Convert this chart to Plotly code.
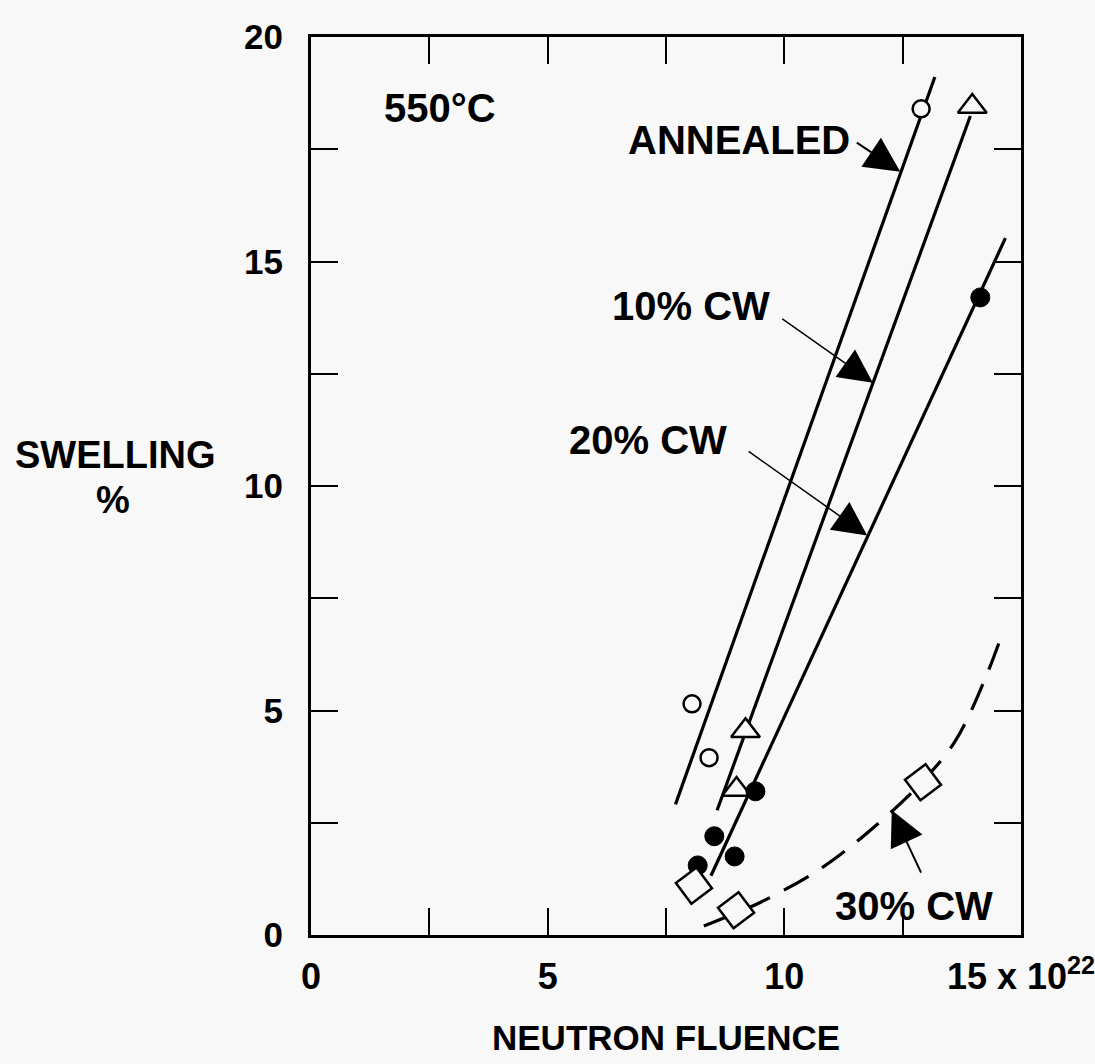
import plotly.graph_objects as go

# ---- data ----
# measured points (x = neutron fluence, 1e22 n/cm^2 ; y = swelling %)
annealed_x = [8.05, 8.41, 12.89]
annealed_y = [5.15, 3.95, 18.40]
cw10_x = [8.99, 9.18, 13.97]
cw10_y = [3.24, 4.55, 18.45]
cw20_x = [8.17, 8.52, 8.95, 9.39, 14.14]
cw20_y = [1.55, 2.20, 1.75, 3.20, 14.20]
cw30_x = [8.09, 8.98, 12.93]
cw30_y = [1.10, 0.55, 3.40]

# trend lines
annealed_fit_x = [7.70, 13.18]
annealed_fit_y = [2.91, 19.11]
cw10_fit_x = [8.58, 13.93]
cw10_fit_y = [2.78, 18.24]
cw20_fit_x = [8.45, 14.67]
cw20_fit_y = [1.32, 15.52]
cw30_fit_x = [8.30, 9.00, 9.50, 10.80, 12.00, 12.90, 13.60, 14.20, 14.60]
cw30_fit_y = [0.20, 0.50, 0.73, 1.50, 2.50, 3.40, 4.30, 5.60, 6.70]

x_tick_vals = [0, 2.5, 5, 7.5, 10, 12.5, 15]
x_tick_text = ["0", "", "5", "", "10", "", "15 x 10<sup>22</sup>"]
y_tick_vals = [0, 2.5, 5, 7.5, 10, 12.5, 15, 17.5, 20]
y_tick_text = ["0", "", "5", "", "10", "", "15", "", "20"]

BG = "#f8f8f8"
INK = "black"
FONT = "Liberation Sans, Arial, Helvetica, sans-serif"

fig = go.Figure()

# lines
for fx, fy in [(annealed_fit_x, annealed_fit_y), (cw10_fit_x, cw10_fit_y),
               (cw20_fit_x, cw20_fit_y)]:
    fig.add_trace(go.Scatter(x=fx, y=fy, mode="lines",
                             line=dict(color=INK, width=3.2), hoverinfo="skip"))
fig.add_trace(go.Scatter(x=cw30_fit_x, y=cw30_fit_y, mode="lines",
                         line=dict(color=INK, width=3.2, dash="28px,16px", shape="spline"),
                         hoverinfo="skip"))

# markers
fig.add_trace(go.Scatter(x=annealed_x, y=annealed_y, mode="markers", name="ANNEALED",
                         marker=dict(symbol="circle", size=17, color=BG,
                                     line=dict(color=INK, width=2.5))))
fig.add_trace(go.Scatter(x=cw10_x, y=cw10_y, mode="markers", name="10% CW",
                         marker=dict(symbol="triangle-up", size=25, color=BG,
                                     line=dict(color=INK, width=2.5))))
fig.add_trace(go.Scatter(x=cw20_x, y=cw20_y, mode="markers", name="20% CW",
                         marker=dict(symbol="circle", size=19, color=INK,
                                     line=dict(color=INK, width=1))))
fig.add_trace(go.Scatter(x=cw30_x, y=cw30_y, mode="markers", name="30% CW",
                         marker=dict(symbol="diamond", size=28, color=BG, angle=8,
                                     line=dict(color=INK, width=2.5))))

# text labels
labels = [
    ("550°C", 2.73, 18.42),
    ("ANNEALED", 9.04, 17.70),
    ("10% CW", 8.03, 14.01),
    ("20% CW", 7.12, 11.02),
    ("30% CW", 12.74, 0.65),
]
for t, x, y in labels:
    fig.add_annotation(x=x, y=y, xref="x", yref="y", text=t, showarrow=False,
                       font=dict(family=FONT, size=40, color=INK, weight="bold"))

# arrows: (tip x, tip y, tail dx px, tail dy px, width, size)
arrows = [
    (12.45, 17.00, -45, -30, 2.0, 3.5),
    (11.87, 12.30, -92, -65, 1.5, 4.5),
    (11.75, 8.90, -120, -85, 1.5, 4.5),
    (12.27, 2.78, 30, 64, 2.0, 3.5),
]
for x, y, ax, ay, w, s in arrows:
    fig.add_annotation(x=x, y=y, xref="x", yref="y", text="", showarrow=True,
                       ax=ax, ay=ay, axref="pixel", ayref="pixel",
                       arrowhead=2, arrowwidth=w, arrowsize=s, arrowcolor=INK)

# axis titles (horizontal)
fig.add_annotation(x=-0.276, y=0.5345, xref="paper", yref="paper", text="SWELLING",
                   xanchor="center", yanchor="middle", showarrow=False,
                   font=dict(family=FONT, size=38, color=INK, weight="bold"))
fig.add_annotation(x=-0.279, y=0.484, xref="paper", yref="paper", text="%",
                   xanchor="center", yanchor="middle", showarrow=False,
                   font=dict(family=FONT, size=38, color=INK, weight="bold"))
fig.add_annotation(x=0.5, y=-0.1145, xref="paper", yref="paper", text="NEUTRON FLUENCE",
                   xanchor="center", yanchor="middle", showarrow=False,
                   font=dict(family=FONT, size=35, color=INK, weight="bold"))

fig.update_layout(
    width=1095, height=1064,
    margin=dict(l=311, r=74, t=37, b=129),
    paper_bgcolor=BG, plot_bgcolor=BG,
    showlegend=False,
)
fig.update_xaxes(
    range=[0, 15], tickmode="array", tickvals=x_tick_vals, ticktext=x_tick_text,
    ticks="inside", ticklen=27, tickwidth=2, tickcolor=INK,
    showline=True, linewidth=3, linecolor=INK, mirror="allticks",
    showgrid=False, zeroline=False, automargin=False,
    tickfont=dict(family=FONT, size=36, color=INK, weight="bold"),
    ticklabelstandoff=8, ticklabeloverflow="allow",
)
fig.update_yaxes(
    range=[0, 20], tickmode="array", tickvals=y_tick_vals, ticktext=y_tick_text,
    ticks="inside", ticklen=27, tickwidth=2, tickcolor=INK,
    showline=True, linewidth=3, linecolor=INK, mirror="allticks",
    showgrid=False, zeroline=False, automargin=False,
    tickfont=dict(family=FONT, size=35, color=INK, weight="bold"),
    ticklabelstandoff=18,
)

fig.write_html("out.html")
